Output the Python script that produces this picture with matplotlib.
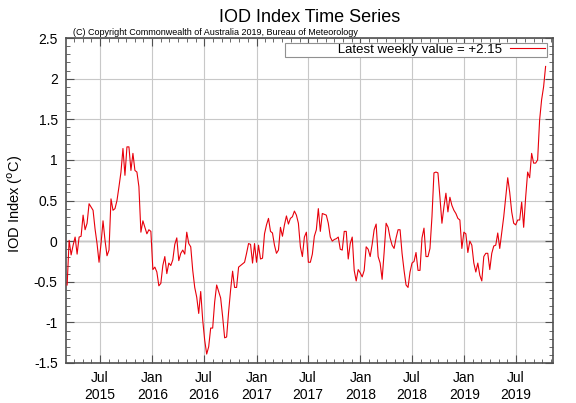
import pandas as pd
import matplotlib
matplotlib.use('Agg')
import matplotlib.pyplot as plt
import matplotlib.dates as mdates
from matplotlib.ticker import MultipleLocator, FuncFormatter

# weekly IOD index values (deg C), first week ending 2015-03-08
start_date = '2015-03-08'
iod = [
    -0.54, 0.01, -0.17, -0.05, 0.05, -0.16, 0.05, 0.06, 0.32, 0.14,
    0.22, 0.46, 0.42, 0.38, 0.15, -0.03, -0.26, -0.03, 0.25, 0.01,
    -0.18, -0.11, 0.52, 0.38, 0.40, 0.50, 0.67, 0.85, 1.14, 0.81,
    1.16, 1.16, 0.87, 1.08, 0.87, 0.85, 0.67, 0.11, 0.25, 0.17,
    0.09, 0.14, 0.12, -0.35, -0.32, -0.38, -0.55, -0.52, -0.30, -0.19,
    -0.40, -0.27, -0.30, -0.23, -0.04, 0.04, -0.24, -0.15, -0.11, -0.16,
    0.11, -0.03, -0.07, -0.36, -0.57, -0.69, -0.89, -0.62, -0.97, -1.22,
    -1.39, -1.30, -1.07, -1.07, -0.75, -0.54, -0.62, -0.70, -0.93, -1.19,
    -1.18, -0.87, -0.60, -0.37, -0.57, -0.57, -0.32, -0.30, -0.28, -0.26,
    -0.15, -0.03, -0.04, -0.27, -0.03, -0.26, -0.05, -0.22, -0.21, 0.09,
    0.20, 0.28, 0.12, 0.10, -0.05, -0.15, -0.11, 0.17, 0.06, 0.20,
    0.31, 0.21, 0.28, 0.30, 0.37, 0.32, 0.22, -0.07, -0.19, 0.05,
    0.11, -0.26, -0.26, -0.16, 0.06, 0.14, 0.40, 0.12, 0.34, 0.33,
    0.32, 0.22, 0.05, 0.00, 0.02, 0.03, 0.05, -0.10, -0.11, 0.12,
    0.12, -0.22, -0.03, 0.05, -0.36, -0.49, -0.35, -0.39, -0.44, -0.36,
    -0.07, -0.10, -0.19, -0.04, 0.14, 0.21, -0.19, -0.27, -0.47, -0.14,
    0.22, 0.17, 0.04, -0.05, -0.09, 0.04, 0.14, 0.14, -0.15, -0.36,
    -0.54, -0.57, -0.38, -0.27, -0.25, -0.14, -0.36, -0.36, 0.04, 0.16,
    -0.19, -0.19, -0.09, 0.30, 0.84, 0.85, 0.84, 0.54, 0.22, 0.42,
    0.59, 0.36, 0.54, 0.44, 0.38, 0.34, 0.28, 0.26, -0.09, 0.11,
    0.09, -0.14, 0.00, -0.05, -0.27, -0.38, -0.27, -0.42, -0.49, -0.19,
    -0.15, -0.15, -0.35, -0.15, -0.06, -0.05, 0.10, -0.09, 0.11, 0.30,
    0.54, 0.78, 0.60, 0.36, 0.22, 0.20, 0.26, 0.26, 0.48, 0.17,
    0.54, 0.85, 0.78, 1.08, 0.96, 0.96, 1.00, 1.49, 1.74, 1.90,
    2.15,
]
x_range = ['2015-03-04', '2019-11-08']
y_range = [-1.5, 2.5]

dates = pd.date_range(start=start_date, periods=len(iod), freq='7D')

plt.rcParams['font.family'] = ['Liberation Sans', 'DejaVu Sans']

fig = plt.figure(figsize=(5.76, 4.03), dpi=100)
ax = fig.add_axes([66 / 576, 40 / 403, 487 / 576, 325 / 403])

frame = '#505050'
ax.grid(True, which='major', color='#c8c8c8', linewidth=0.8)
ax.axhline(0, color='#808080', linewidth=1.0, zorder=1)
ax.plot(dates, iod, color='#e8000b', linewidth=0.8, zorder=3,
        label='              Latest weekly value = %+.2f' % iod[-1])

ax.set_xlim(pd.Timestamp(x_range[0]), pd.Timestamp(x_range[1]))
ax.set_ylim(*y_range)

ax.xaxis.set_major_locator(mdates.MonthLocator(bymonth=[1, 7]))
ax.xaxis.set_minor_locator(mdates.MonthLocator())
ax.xaxis.set_major_formatter(mdates.DateFormatter('%b\n%Y'))
ax.yaxis.set_major_locator(MultipleLocator(0.5))
ax.yaxis.set_minor_locator(MultipleLocator(0.1))
ax.yaxis.set_major_formatter(FuncFormatter(lambda v, p: '%g' % v))

ax.tick_params(which='both', direction='in', top=True, right=True,
               color=frame, labelsize=10)
ax.tick_params(which='major', length=6, width=0.8, pad=6)
ax.tick_params(which='minor', length=3, width=0.6)
for s in ax.spines.values():
    s.set_color(frame)
    s.set_linewidth(1.2)

ax.set_ylabel('IOD Index ($^{\\mathrm{o}}$C)', fontsize=10.5)
ax.yaxis.set_label_coords(-0.085, 0.49)
fig.text(310 / 576, 1 - 18 / 403, 'IOD Index Time Series', fontsize=13,
         ha='center', va='center')
ax.text(0.014, 1.004, '(C) Copyright Commonwealth of Australia 2019, Bureau of Meteorology',
        transform=ax.transAxes, fontsize=6.5, ha='left', va='bottom')

leg = ax.legend(loc='upper right', bbox_to_anchor=(0.987, 0.986), markerfirst=False,
                fontsize=9.5, handlelength=2.7, handletextpad=0.6, borderpad=0.1,
                borderaxespad=0, fancybox=False, framealpha=1, edgecolor='#909090')
leg.get_frame().set_linewidth(0.8)

plt.savefig('out.png', dpi=100)
